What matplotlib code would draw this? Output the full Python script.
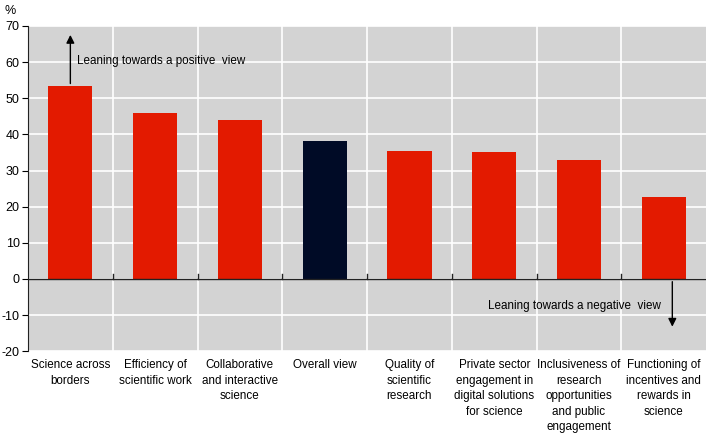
import matplotlib.pyplot as plt
import numpy as np

plt.rcParams['font.family'] = ['Liberation Sans', 'DejaVu Sans']
plt.rcParams['axes.unicode_minus'] = False

categories = ['Science across\nborders', 'Efficiency of\nscientific work',
              'Collaborative\nand interactive\nscience', 'Overall view',
              'Quality of\nscientific\nresearch',
              'Private sector\nengagement in\ndigital solutions\nfor science',
              'Inclusiveness of\nresearch\nopportunities\nand public\nengagement',
              'Functioning of\nincentives and\nrewards in\nscience']
values = [53.3, 45.8, 44.1, 38.3, 35.5, 35.2, 33.0, 22.7]
highlight = 'Overall view'

red = '#e31a00'
navy = '#000b26'
colors = [navy if c == highlight else red for c in categories]

fig = plt.figure(figsize=(7.08, 4.33), dpi=100)
ax = fig.add_axes([0.0395, 0.189, 0.958, 0.751])
ax.set_facecolor('#d3d3d3')

x = np.arange(len(categories))
ax.bar(x, values, width=0.52, color=colors, zorder=3)

ax.set_xlim(-0.5, len(categories) - 0.5)
ax.set_ylim(-20, 70)
ax.set_yticks(range(-20, 71, 10))
ax.set_xticks(x)
ax.set_xticklabels(categories, fontsize=8.4, linespacing=1.38)
ax.tick_params(axis='x', length=0, pad=6)
ax.tick_params(axis='y', labelsize=9, length=4, direction='out', pad=2)

# category boundaries: white vertical grid + small ticks on the zero line
bounds = np.arange(0.5, len(categories) - 0.5, 1)
ax.set_xticks(bounds, minor=True)
ax.tick_params(axis='x', which='minor', length=0)
ax.grid(True, which='minor', axis='x', color='white', lw=1.2, zorder=1)
ax.grid(True, which='major', axis='y', color='white', lw=1.2, zorder=1)
ax.grid(False, which='major', axis='x')
ax.set_axisbelow(True)

ax.axhline(0, color='#222222', lw=1, zorder=4)
for b in bounds:
    ax.plot([b, b], [0, 1.3], color='#222222', lw=1, zorder=4)

for s in ['top', 'right', 'bottom']:
    ax.spines[s].set_visible(False)
ax.spines['left'].set_color('#222222')

ax.annotate('', xy=(0, 68.3), xytext=(0, values[0]),
            arrowprops=dict(arrowstyle='-|>', color='black', lw=1,
                            mutation_scale=12), zorder=5)
ax.text(0.08, 60.3, 'Leaning towards a positive  view', fontsize=8.4,
        va='center', ha='left', zorder=5)

ax.annotate('', xy=(7.1, -14), xytext=(7.1, 0),
            arrowprops=dict(arrowstyle='-|>', color='black', lw=1,
                            mutation_scale=12), zorder=5)
ax.text(6.97, -7.5, 'Leaning towards a negative  view', fontsize=8.4,
        va='center', ha='right', zorder=5)

fig.text(0.007, 0.975, '%', fontsize=9, va='center', ha='left')

fig.savefig('out.png', dpi=100)
